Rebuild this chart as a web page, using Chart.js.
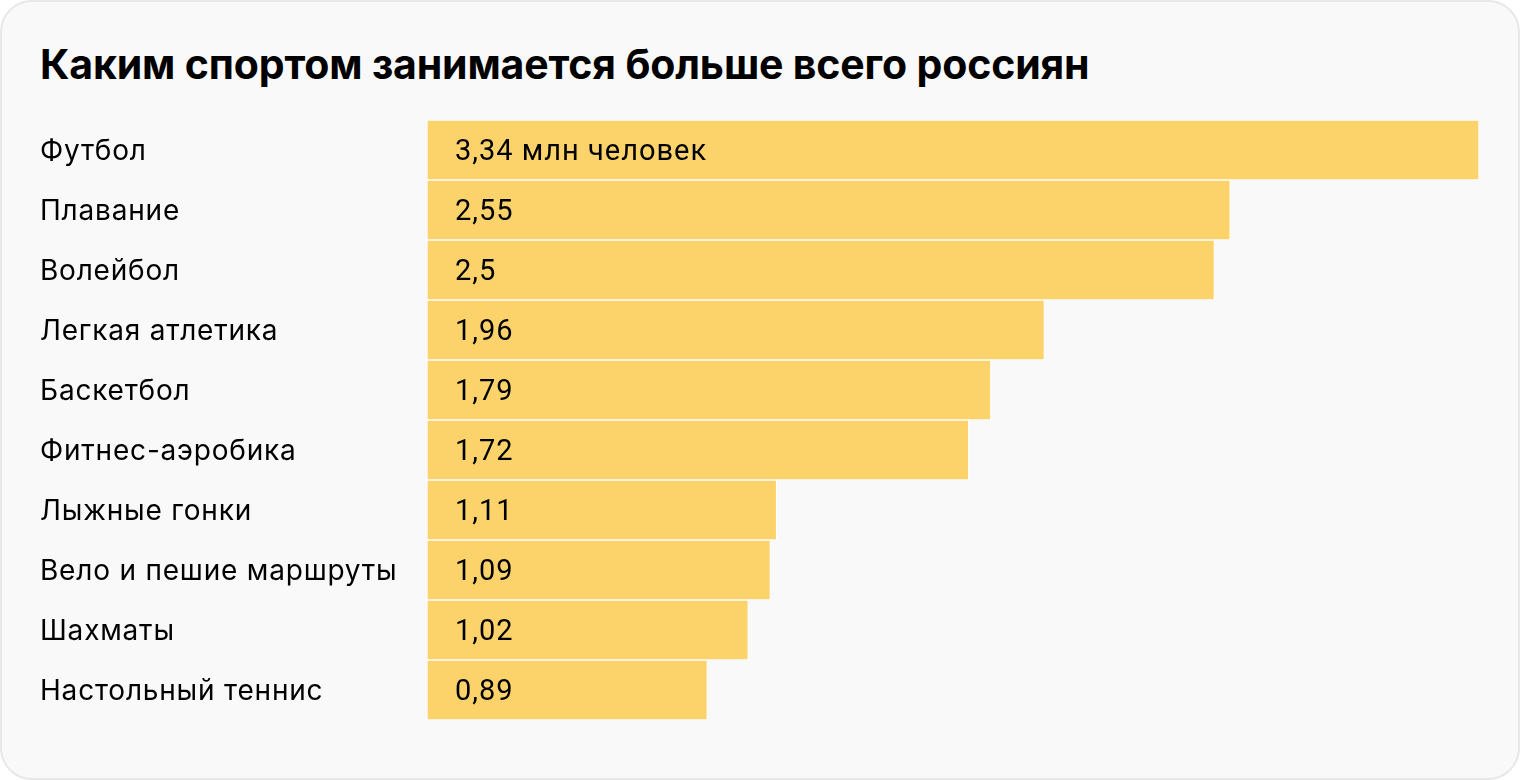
<!DOCTYPE html>
<html lang="ru">
<head>
<meta charset="utf-8">
<title>Каким спортом занимается больше всего россиян</title>
<script src="https://cdn.jsdelivr.net/npm/chart.js@4"></script>
<style>
    html, body { margin: 0; padding: 0; width: 1520px; height: 780px; overflow: hidden; background: #fff; }
    .card {
        position: absolute; left: 0; top: 0;
        width: 1516px; height: 776px;
        background: #f9f9f9;
        border: 2px solid #e8e8e8;
        border-radius: 32px;
    }
    h1 {
        position: absolute; left: 40px; top: 44px; margin: 0;
        font: 700 41px/1 Inter, Roboto, sans-serif;
        color: #000;
        letter-spacing: -0.15px;
    }
    #chart { position: absolute; left: 0; top: 0; }
</style>
</head>
<body>
<div class="card"></div>
<h1>Каким спортом занимается больше всего россиян</h1>
<canvas id="chart" width="1520" height="780"></canvas>
<script>
    // Data
    const sports = [
        'Футбол', 'Плавание', 'Волейбол', 'Легкая атлетика', 'Баскетбол',
        'Фитнес-аэробика', 'Лыжные гонки', 'Вело и пешие маршруты', 'Шахматы', 'Настольный теннис'
    ];
    const people = [3.34, 2.55, 2.5, 1.96, 1.79, 1.72, 1.11, 1.09, 1.02, 0.89];
    const unit = ' млн человек';

    const fontFamily = 'Inter, Roboto, sans-serif';

    // the reference font runs a bit wider than Inter
    const spacing = {
        id: 'spacing',
        beforeDraw(chart) { chart.ctx.letterSpacing = '0.8px'; }
    };

    // Value labels inside bars, near the base (Roboto has tabular digits)
    const valueLabels = {
        id: 'valueLabels',
        afterDatasetsDraw(chart) {
            const { ctx } = chart;
            const meta = chart.getDatasetMeta(0);
            ctx.save();
            ctx.font = '400 29px Roboto, sans-serif';
            ctx.letterSpacing = '1px';
            ctx.fillStyle = '#000';
            ctx.textAlign = 'left';
            ctx.textBaseline = 'middle';
            meta.data.forEach((bar, i) => {
                let text = String(people[i]).replace('.', ',');
                if (i === 0) text += unit;
                ctx.fillText(text, bar.base + 28, bar.y + 3);
            });
            ctx.restore();
        }
    };

    new Chart(document.getElementById('chart'), {
        type: 'bar',
        data: {
            labels: sports,
            datasets: [{
                data: people,
                backgroundColor: '#fcd36a',
                borderColor: '#ffffff',
                borderWidth: 1,
                borderSkipped: false,
                categoryPercentage: 1,
                barPercentage: 1
            }]
        },
        options: {
            indexAxis: 'y',
            responsive: false,
            animation: false,
            layout: { padding: { left: 40, right: 41, top: 120, bottom: 60 } },
            plugins: {
                legend: { display: false },
                tooltip: { enabled: false }
            },
            scales: {
                x: { display: false, min: 0, max: 3.34 },
                y: {
                    grid: { display: false, drawTicks: false },
                    border: { display: false },
                    afterFit(axis) { axis.width = 387; },
                    ticks: {
                        crossAlign: 'far',
                        padding: 0,
                        labelOffset: 2,
                        color: '#000',
                        font: { family: fontFamily, size: 28, weight: '400' }
                    }
                }
            }
        },
        plugins: [spacing, valueLabels]
    });
</script>
</body>
</html>
